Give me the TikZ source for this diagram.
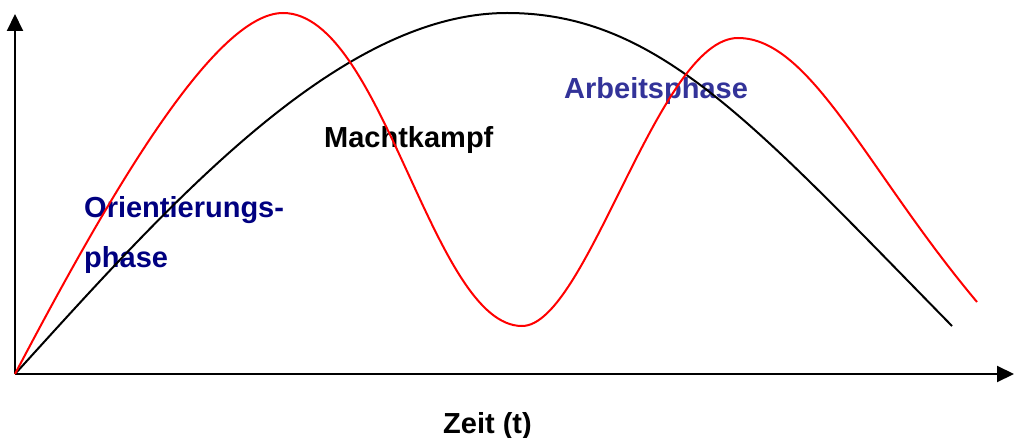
\documentclass[tikz,border=0pt]{standalone}
\usepackage{fontspec}
\setmainfont{Liberation Sans}
\usetikzlibrary{arrows.meta}
\definecolor{navyblue}{HTML}{000080}
\definecolor{phaseblue}{HTML}{333399}
\tikzset{
  lbl/.style={anchor=base west, inner sep=0pt, font=\fontsize{29}{35}\selectfont\bfseries},
  axis/.style={line width=2pt, -{Triangle[length=17pt,width=16pt]}},
  curve/.style={line width=2pt, line join=round}
}
\begin{document}
\begin{tikzpicture}[x=1pt,y=-1pt]
\useasboundingbox (0,0) rectangle (1016,438);
% labels
\node[lbl, text=navyblue] (o1) at (84,218) {Orientierungs-};
\node[lbl, text=navyblue] (o2) at (84,267) {phase};
\node[lbl, text=black] (m) at (324,148) {Machtkampf};
\node[lbl, text=phaseblue] (a) at (564,99) {Arbeitsphase};
\node[lbl, text=black] (z) at (443,433) {Zeit (t)};
% axes
\coordinate (O) at (15,374);
\coordinate (Ytop) at (15,14);
\coordinate (Xend) at (1014,374);
\draw[axis] (O) -- (Ytop);
\draw[axis] (O) -- (Xend);
% black curve
\coordinate (bpk) at (507,13);
\coordinate (bend) at (952,326);
\draw[curve, black] (O) .. controls (165,209) and (337,13) .. (bpk)
  .. controls (657,13) and (752,122) .. (bend);
% red curve
\coordinate (rp1) at (283,13);
\coordinate (rtr) at (522,326);
\coordinate (rp2) at (738,38);
\coordinate (rend) at (977,302);
\draw[curve, red] (O) .. controls (105,203) and (213,13) .. (rp1)
  .. controls (383,13) and (432,326) .. (rtr)
  .. controls (587,326) and (658,38) .. (rp2)
  .. controls (811,38) and (867,171) .. (rend);
\end{tikzpicture}
\end{document}
